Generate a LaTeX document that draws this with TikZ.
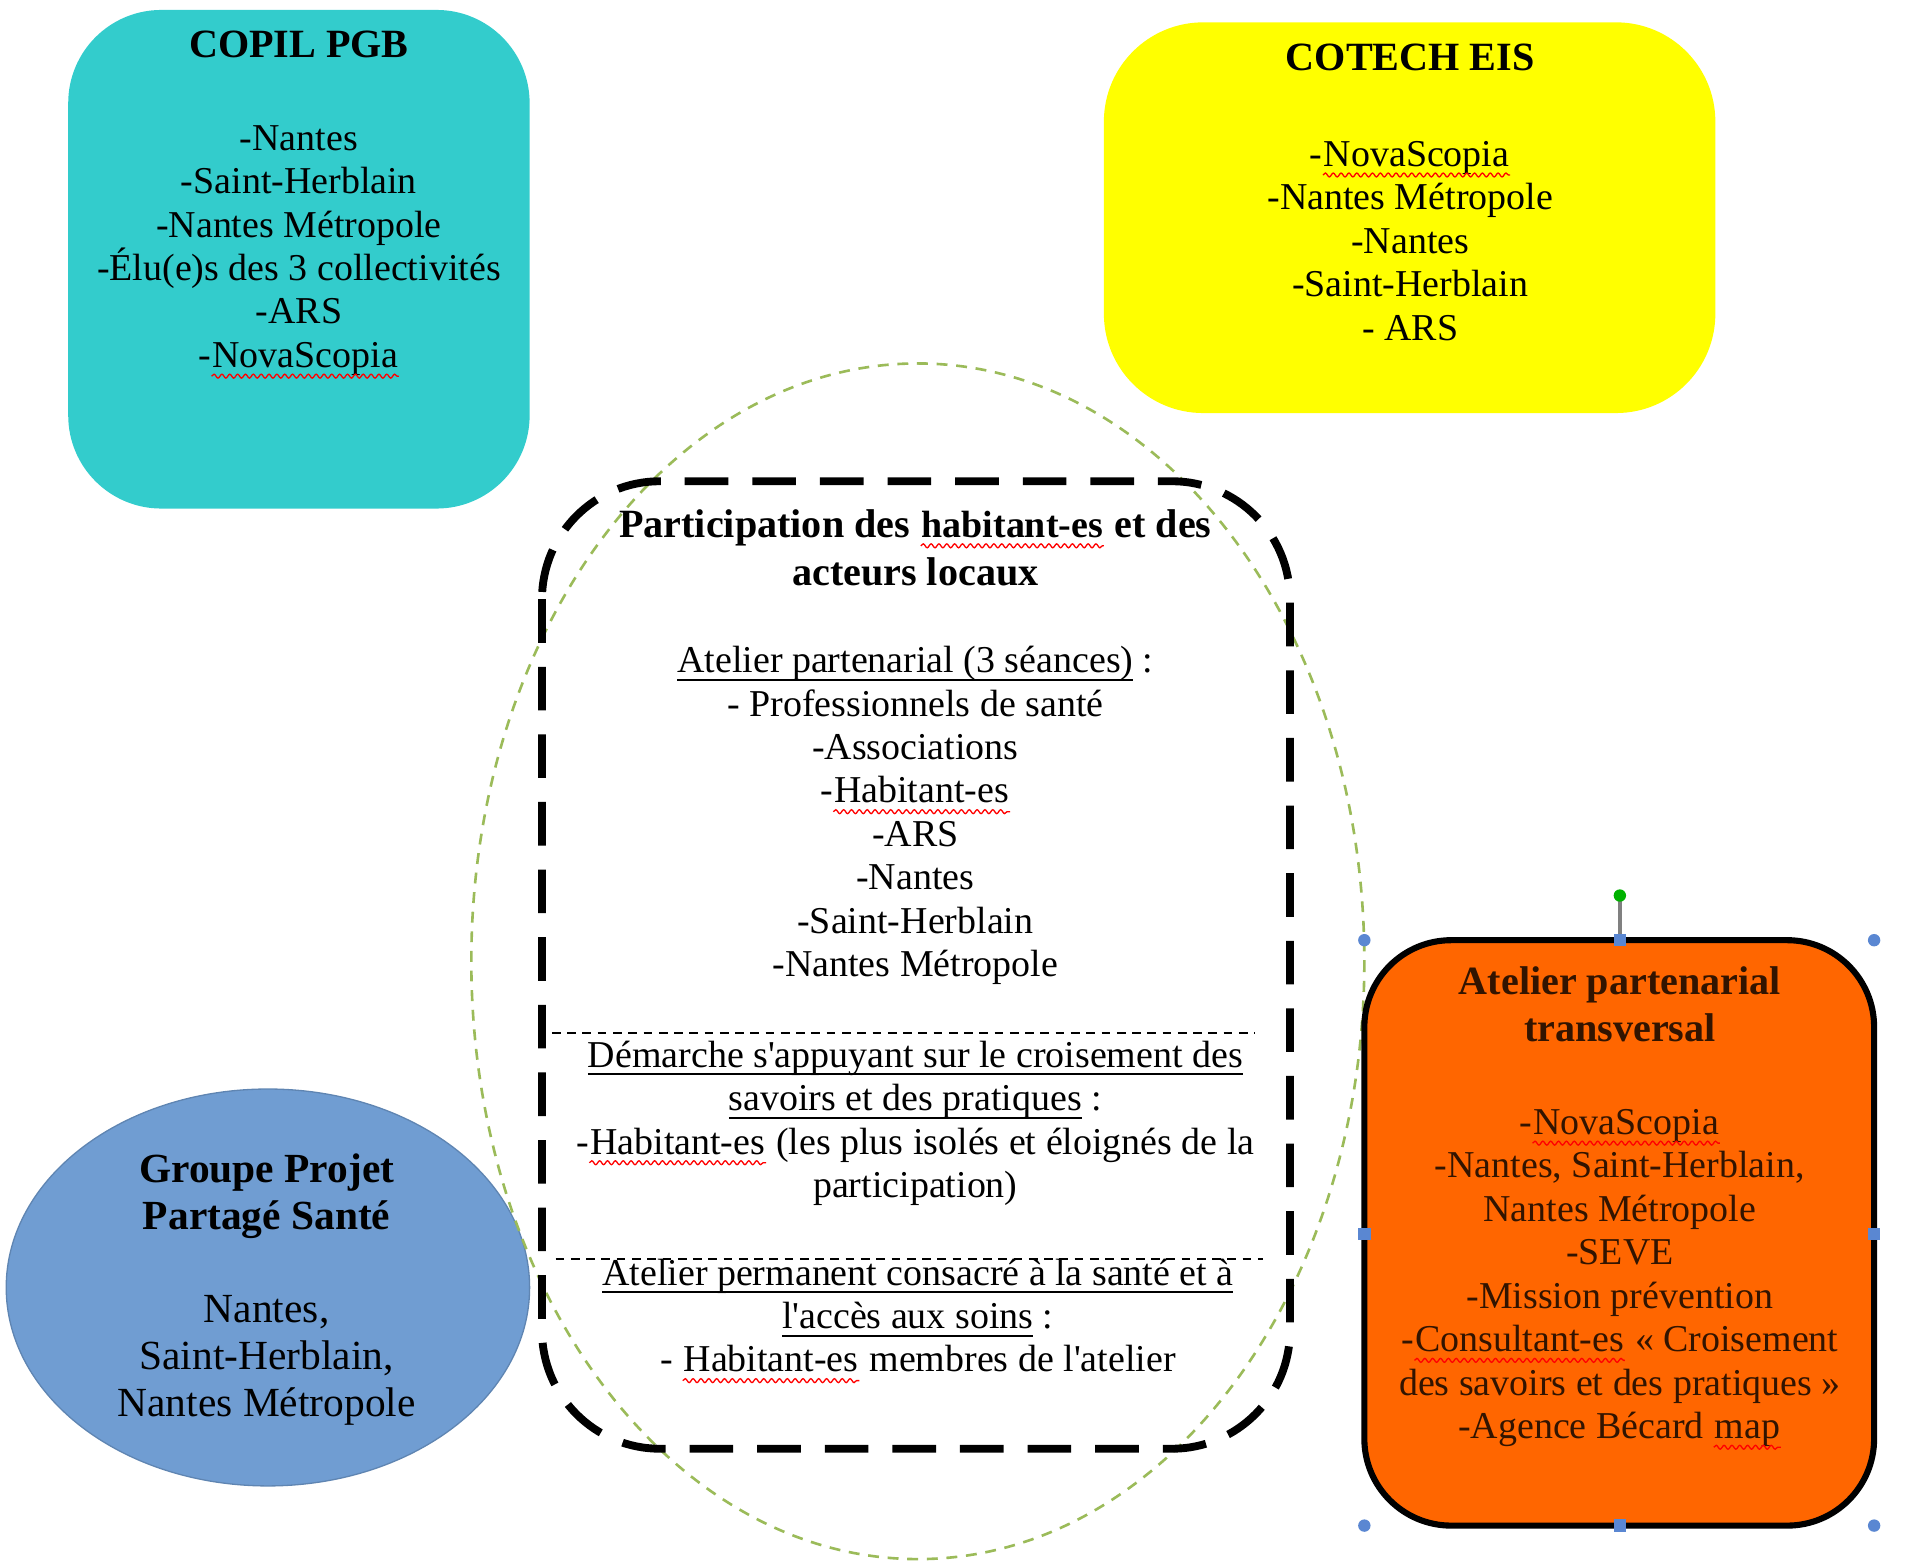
\documentclass[tikz,border=0pt]{standalone}
\usepackage{fontspec}
\setmainfont{Liberation Serif}
\usetikzlibrary{decorations.pathmorphing}
\newcommand\redwave[1]{\tikz[baseline=(w.base)]{\node[inner sep=0pt] (w) {#1}; \draw[red, line width=0.3pt, decorate, decoration={snake, amplitude=0.45pt, segment length=1.8pt}] ([yshift=-2pt]w.base west) -- ([yshift=-2pt]w.base east);}}
\newcommand\ul[1]{\leavevmode\setbox0\hbox{#1}\rlap{\rule[-1.9pt]{\wd0}{0.45pt}}\box0\relax}
\newcommand\hd[1]{{\fontsize{9.2}{9.96}\selectfont\bfseries #1}}
\definecolor{copilcol}{RGB}{51,204,204}
\definecolor{eiscol}{RGB}{255,255,0}
\definecolor{gpcol}{RGB}{112,157,210}
\definecolor{apcol}{RGB}{255,102,0}
\definecolor{ovalcol}{RGB}{155,187,89}
\definecolor{handlecol}{RGB}{90,135,210}
\definecolor{aptext}{RGB}{50,20,0}

\begin{document}
\begin{tikzpicture}[x=0.01cm, y=-0.01cm,
        every node/.style={font=\fontsize{8.7}{9.96}\selectfont, align=center, inner sep=0pt},
        bigtext/.style={font=\fontsize{9.5}{10.8}\selectfont},
        handle/.style={fill=handlecol}]
        \useasboundingbox (0,0) rectangle (1548,1262);
        \fill[copilcol, rounded corners=0.75cm] (55,8) rectangle (427,410);
        \fill[eiscol, rounded corners=0.8cm] (890,18) rectangle (1383,333);
        \draw[gpcol!85!black, fill=gpcol, line width=0.3pt] (216,1038) ellipse (211 and 160);
        \draw[ovalcol, dash pattern=on 2.5pt off 2pt, line width=0.6pt] (740,775) ellipse (360 and 482);
        \draw[line width=1.8pt, dash pattern=on 10pt off 5.5pt, rounded corners=0.95cm] (437,388) rectangle (1040,1168);
        \draw[dash pattern=on 2pt off 1.5pt, line width=0.4pt] (445,833) -- (1012,833);
        \draw[dash pattern=on 2pt off 1.5pt, line width=0.4pt] (448,1015) -- (1018,1015);
        \draw[line width=1.4pt, fill=apcol, rounded corners=0.7cm] (1100,758) rectangle (1511,1230);
        \draw[gray, line width=0.8pt] (1306,722) -- (1306,758);
        \foreach \x/\y in {1100/758, 1511/758, 1100/1230, 1511/1230} \fill[handle] (\x,\y) circle (5);
        \foreach \x/\y in {1306/758, 1100/995, 1511/995, 1306/1230} \fill[handle] (\x-5,\y-5) rectangle (\x+5,\y+5);
        \fill[green!70!black] (1306,722) circle (5);

        \node (copil) at (241,165) {\hd{COPIL PGB}\\[0.4cm] -Nantes\\ -Saint-Herblain\\ -Nantes Métropole\\ -Élu(e)s des 3 collectivités\\ -ARS\\ -\redwave{NovaScopia}};
        \node (cotech) at (1137,155) {\hd{COTECH EIS}\\[0.42cm] -\redwave{NovaScopia}\\ -Nantes Métropole\\ -Nantes\\ -Saint-Herblain\\ - ARS};
        \node (partitle) at (738,441.5) {\hd{Participation des \redwave{habitant-es} et des}\\[0.04cm] \hd{acteurs locaux}};
        \node (atelier) at (738,657.5) {\ul{Atelier partenarial (3 séances)} :\\ - Professionnels de santé\\ -Associations\\ -\redwave{Habitant-es}\\ -ARS\\ -Nantes\\ -Saint-Herblain\\ -Nantes Métropole};
        \node (demarche) at (738,905.5) {\ul{Démarche s\textquotesingle appuyant sur le croisement des}\\ \ul{savoirs et des pratiques} :\\ -\redwave{Habitant-es} (les plus isolés et éloignés de la\\ participation)};
        \node (permanent) at (740,1065) {\ul{Atelier permanent consacré à la santé et à}\\ \ul{l\textquotesingle accès aux soins} :\\ - \redwave{Habitant-es} membres de l\textquotesingle atelier};
        \node[bigtext] (groupe) at (215,1039.5) {\textbf{Groupe Projet}\\ \textbf{Partagé Santé}\\[0.37cm] Nantes,\\ Saint-Herblain,\\ Nantes Métropole};
        \node[text=aptext] (transversal) at (1306,974) {\hd{Atelier partenarial}\\[0.03cm] \hd{transversal}\\[0.4cm] -\redwave{NovaScopia}\\ -Nantes, Saint-Herblain,\\ Nantes Métropole\\ -SEVE\\ -Mission prévention\\ -\redwave{Consultant-es} «~Croisement\\ des savoirs et des pratiques~»\\ -Agence Bécard \redwave{map}};
    \end{tikzpicture}
\end{document}
